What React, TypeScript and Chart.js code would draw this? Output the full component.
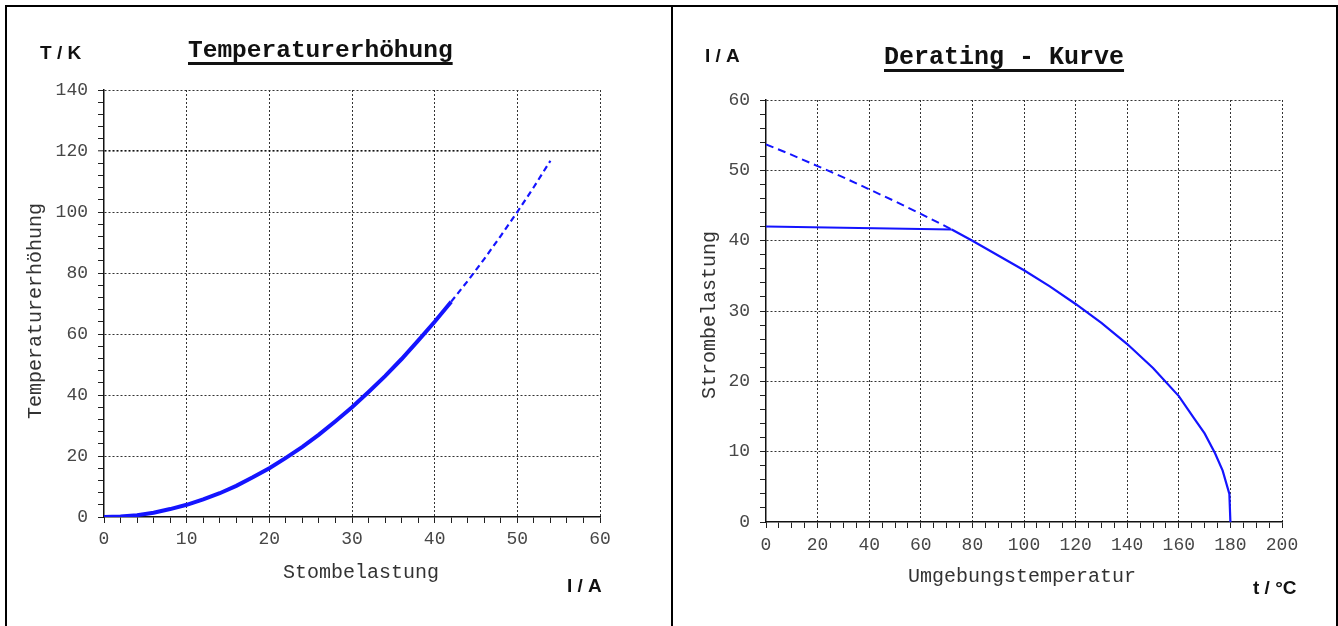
import React, { useEffect, useRef } from 'react';
import { Chart, registerables } from 'chart.js';

Chart.register(...registerables);

// ---------- Data: Temperaturerhöhung ----------
const heatCurrentSolid = [0, 2, 4, 6, 8, 10, 12, 14, 16, 18, 20, 22, 24, 26, 28, 30, 32, 34, 36, 38, 40, 42];
const heatRiseSolid = [0, 0.2, 0.6, 1.4, 2.6, 4.0, 5.8, 7.8, 10.2, 13.0, 16.0, 19.4, 23.0, 27.0, 31.4, 36.0, 41.0, 46.2, 51.8, 57.8, 64.0, 70.6];
const heatCurrentDashed = [42, 44, 46, 48, 50, 52, 54];
const heatRiseDashed = [70.6, 77.4, 84.6, 92.2, 100.0, 108.2, 116.8];
const heatXMajor = [0, 10, 20, 30, 40, 50, 60];
const heatYMajor = [0, 20, 40, 60, 80, 100, 120, 140];

// ---------- Data: Derating - Kurve ----------
const deratingTempLimit = [0, 72];
const deratingCurrentLimit = [42.0, 41.6];
const deratingTempCurve = [72, 80, 90, 100, 110, 120, 130, 140, 150, 160, 166, 170, 174, 177, 179.6, 180];
const deratingCurrentCurve = [41.6, 40.0, 37.9, 35.8, 33.5, 31.0, 28.3, 25.3, 21.9, 17.9, 14.7, 12.6, 9.8, 7.3, 4.0, 0];
const deratingTempExtrap = [0, 10, 20, 30, 40, 50, 60, 72];
const deratingCurrentExtrap = [53.7, 52.2, 50.6, 49.0, 47.3, 45.6, 43.8, 41.6];
const deratingXMajor = [0, 20, 40, 60, 80, 100, 120, 140, 160, 180, 200];
const deratingYMajor = [0, 10, 20, 30, 40, 50, 60];

const BLUE = '#1414ff';
const MONO = '"Liberation Mono", "DejaVu Sans Mono", monospace';
const SANS = '"Liberation Sans", Arial, sans-serif';

const pts = (xs: number[], ys: number[]) => xs.map((x, i) => ({ x, y: ys[i] }));

type Deco = {
  text: string;
  x: number;
  y: number;
  font: string;
  color?: string;
  align?: CanvasTextAlign;
  baseline?: CanvasTextBaseline;
  rotate?: boolean;
  underline?: { y: number; width: number };
};

const decorPlugin = {
  id: 'decor',
  afterDraw(chart: any, _args: any, opts: any) {
    const ctx: CanvasRenderingContext2D = chart.ctx;
    const items: Deco[] = opts.items || [];
    for (const d of items) {
      ctx.save();
      ctx.font = d.font;
      ctx.fillStyle = d.color || '#111';
      ctx.textAlign = d.align || 'left';
      ctx.textBaseline = d.baseline || 'alphabetic';
      if (d.rotate) {
        ctx.translate(d.x, d.y);
        ctx.rotate(-Math.PI / 2);
        ctx.fillText(d.text, 0, 0);
      } else {
        ctx.fillText(d.text, d.x, d.y);
        if (d.underline) {
          const w = ctx.measureText(d.text).width;
          let x0 = d.x;
          if (ctx.textAlign === 'center') x0 = d.x - w / 2;
          if (ctx.textAlign === 'right') x0 = d.x - w;
          ctx.fillStyle = '#111';
          ctx.fillRect(x0, d.underline.y, w, d.underline.width);
        }
      }
      ctx.restore();
    }
  },
};

function makeAxis(
  min: number,
  max: number,
  step: number,
  majors: number[],
  padding: number,
  fit: (s: any) => void,
  special?: number
) {
  return {
    type: 'linear' as const,
    min,
    max,
    afterFit: fit,
    ticks: {
      stepSize: step,
      autoSkip: false,
      maxTicksLimit: 1000,
      maxRotation: 0,
      minRotation: 0,
      padding,
      color: '#474747',
      font: { family: MONO, size: 18 },
      callback: (v: any) => (majors.includes(Number(v)) ? String(v) : ''),
    },
    grid: {
      color: (c: any) => {
        const v = c.tick ? c.tick.value : undefined;
        if (v === undefined || v === min) return 'rgba(0,0,0,0)';
        if (special !== undefined && v === special) return '#111';
        return majors.includes(v) ? '#333' : 'rgba(0,0,0,0)';
      },
      lineWidth: (c: any) => (special !== undefined && c.tick && c.tick.value === special ? 1.6 : 1),
      tickColor: '#222',
      tickLength: 6,
      tickWidth: 1,
    },
    border: {
      display: true,
      color: '#111',
      width: 1.5,
      dash: (c: any) => (c.type === 'tick' ? [2, 2] : []),
    },
  };
}

function HeatChart() {
  const ref = useRef<HTMLCanvasElement>(null);
  useEffect(() => {
    if (!ref.current) return;
    const chart = new Chart(ref.current, {
      type: 'line',
      data: {
        datasets: [
          {
            data: pts(heatCurrentSolid, heatRiseSolid),
            borderColor: BLUE,
            borderWidth: 4,
            pointRadius: 0,
            tension: 0,
          },
          {
            data: pts(heatCurrentDashed, heatRiseDashed),
            borderColor: BLUE,
            borderWidth: 2.2,
            borderDash: [6, 4],
            pointRadius: 0,
            tension: 0,
          },
        ],
      },
      options: {
        animation: false,
        responsive: false,
        events: [],
        layout: { padding: { left: 0, top: 83, right: 71, bottom: 69 } },
        plugins: {
          legend: { display: false },
          tooltip: { enabled: false },
          decor: {
            items: [
              { text: 'T / K', x: 33, y: 52, font: `bold 19px ${SANS}` },
              {
                text: 'Temperaturerhöhung',
                x: 181,
                y: 50,
                font: `bold 24.5px ${MONO}`,
                underline: { y: 55, width: 3 },
              },
              {
                text: 'Temperaturerhöhung',
                x: 29,
                y: 304,
                font: `20px ${MONO}`,
                color: '#333',
                align: 'center',
                baseline: 'middle',
                rotate: true,
              },
              {
                text: 'Stombelastung',
                x: 354,
                y: 566,
                font: `20px ${MONO}`,
                color: '#333',
                align: 'center',
                baseline: 'middle',
              },
              { text: 'I / A', x: 560, y: 585, font: `bold 19px ${SANS}` },
            ],
          },
        } as any,
        scales: {
          x: makeAxis(0, 60, 2, heatXMajor, 5, (s: any) => { s.height = 40; }),
          y: makeAxis(0, 140, 4, heatYMajor, 10, (s: any) => { s.width = 97; }, 120),
        },
      },
      plugins: [decorPlugin],
    });
    return () => chart.destroy();
  }, []);
  return <canvas ref={ref} width={664} height={619} style={{ position: 'absolute', left: 7, top: 7 }} />;
}

function DeratingChart() {
  const ref = useRef<HTMLCanvasElement>(null);
  useEffect(() => {
    if (!ref.current) return;
    const chart = new Chart(ref.current, {
      type: 'line',
      data: {
        datasets: [
          {
            data: pts(deratingTempLimit, deratingCurrentLimit),
            borderColor: BLUE,
            borderWidth: 2,
            pointRadius: 0,
            tension: 0,
          },
          {
            data: pts(deratingTempExtrap, deratingCurrentExtrap),
            borderColor: BLUE,
            borderWidth: 2,
            borderDash: [8, 5],
            pointRadius: 0,
            tension: 0,
          },
          {
            data: pts(deratingTempCurve, deratingCurrentCurve),
            borderColor: BLUE,
            borderWidth: 2.2,
            pointRadius: 0,
            tension: 0,
          },
        ],
      },
      options: {
        animation: false,
        responsive: false,
        events: [],
        layout: { padding: { left: 0, top: 93, right: 54, bottom: 64 } },
        plugins: {
          legend: { display: false },
          tooltip: { enabled: false },
          decor: {
            items: [
              { text: 'I / A', x: 32, y: 55, font: `bold 19px ${SANS}` },
              {
                text: 'Derating - Kurve',
                x: 211,
                y: 57,
                font: `bold 25px ${MONO}`,
                underline: { y: 62, width: 3 },
              },
              {
                text: 'Strombelastung',
                x: 37,
                y: 308,
                font: `20px ${MONO}`,
                color: '#333',
                align: 'center',
                baseline: 'middle',
                rotate: true,
              },
              {
                text: 'Umgebungstemperatur',
                x: 349,
                y: 570,
                font: `20px ${MONO}`,
                color: '#333',
                align: 'center',
                baseline: 'middle',
              },
              { text: 't / °C', x: 580, y: 587, font: `bold 19px ${SANS}` },
            ],
          },
        } as any,
        scales: {
          x: makeAxis(0, 200, 5, deratingXMajor, 6, (s: any) => { s.height = 40; }),
          y: makeAxis(0, 60, 2, deratingYMajor, 10, (s: any) => { s.width = 93; }),
        },
      },
      plugins: [decorPlugin],
    });
    return () => chart.destroy();
  }, []);
  return <canvas ref={ref} width={663} height={619} style={{ position: 'absolute', left: 673, top: 7 }} />;
}

export default function App() {
  return (
    <div
      style={{
        position: 'absolute',
        left: 0,
        top: 0,
        width: 1338,
        height: 626,
        background: '#fff',
        overflow: 'hidden',
      }}
    >
      <div
        style={{
          position: 'absolute',
          left: 5,
          top: 5,
          width: 1329,
          height: 640,
          borderTop: '2px solid #000',
          borderLeft: '2px solid #000',
          borderRight: '2px solid #000',
        }}
      />
      <div style={{ position: 'absolute', left: 671, top: 5, width: 2, height: 640, background: '#000' }} />
      <HeatChart />
      <DeratingChart />
    </div>
  );
}
